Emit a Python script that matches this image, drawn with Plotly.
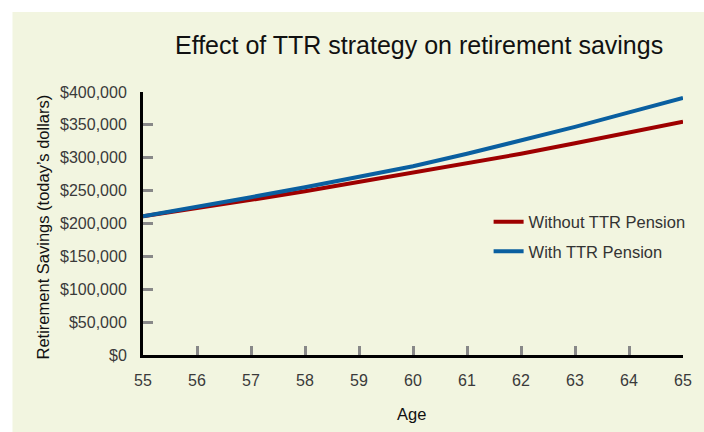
import plotly.graph_objects as go

ages = [55, 56, 57, 58, 59, 60, 61, 62, 63, 64, 65]
without_ttr = [211000, 223000, 236000, 249000, 263000, 277000, 291000, 306000, 322000, 338000, 355000]
with_ttr = [211000, 225000, 240000, 255000, 271000, 287000, 306000, 326000, 347000, 369000, 391000]
y_ticks = [0, 50000, 100000, 150000, 200000, 250000, 300000, 350000, 400000]
y_labels = ["$0", "$50,000", "$100,000", "$150,000", "$200,000", "$250,000", "$300,000", "$350,000", "$400,000"]

FONT = "Liberation Sans, Arial, sans-serif"
BG = "#F2F5E0"

fig = go.Figure()
fig.add_trace(go.Scatter(x=ages, y=without_ttr, mode="lines", name="Without TTR Pension",
                         line=dict(color="#9E0000", width=4), legendgroup="a"))
fig.add_trace(go.Scatter(x=ages, y=with_ttr, mode="lines", name="With TTR Pension",
                         line=dict(color="#0A5FA0", width=4), legendgroup="b"))

fig.update_layout(
    width=704, height=432,
    margin=dict(l=143, r=19, t=92, b=77),
    paper_bgcolor=BG,
    plot_bgcolor="rgba(0,0,0,0)",
    font=dict(family=FONT, size=16, color="#333333"),
    showlegend=True,
    legend=dict(x=0.64, y=0.572, xanchor="left", yanchor="top", bgcolor="rgba(0,0,0,0)",
                font=dict(size=16.5, color="#333333"), traceorder="grouped", tracegroupgap=5),
    shapes=[
        dict(type="rect", xref="paper", yref="paper", x0=-1, x1=2, y0=1.304, y1=2,
             fillcolor="white", line=dict(width=0), layer="below"),
        dict(type="rect", xref="paper", yref="paper", x0=-1, x1=-0.2417, y0=-1, y1=2,
             fillcolor="white", line=dict(width=0), layer="below"),
    ],
    annotations=[
        dict(text="Effect of TTR strategy on retirement savings", xref="paper", yref="paper",
             x=0.511, y=1.179, xanchor="center", yanchor="middle", showarrow=False,
             font=dict(size=25, color="#111111", family=FONT)),
        dict(text="Age", xref="paper", yref="paper", x=0.498, y=-0.224,
             xanchor="center", yanchor="middle", showarrow=False,
             font=dict(size=16.5, color="#111111", family=FONT)),
        dict(text="Retirement Savings (today\u2019s dollars)", xref="paper", yref="paper",
             x=-0.186, y=0.487, xanchor="center", yanchor="middle", textangle=-90,
             showarrow=False, font=dict(size=16.5, color="#111111", family=FONT)),
    ],
)

fig.update_xaxes(range=[55, 65], tickmode="array", tickvals=ages, ticktext=[str(a) for a in ages],
                 showgrid=False, zeroline=False, showline=True, linecolor="black", linewidth=3,
                 ticks="inside", ticklen=9, tickwidth=3, tickcolor="#888888",
                 ticklabelstandoff=9, tickfont=dict(size=16, color="#3a3a3a"))
fig.update_yaxes(range=[0, 400000], tickmode="array", tickvals=y_ticks, ticktext=y_labels,
                 showgrid=False, zeroline=False, showline=True, linecolor="black", linewidth=3,
                 ticks="inside", ticklen=10, tickwidth=3, tickcolor="#888888",
                 ticklabelstandoff=10, tickfont=dict(size=16, color="#3a3a3a"))

fig.write_html("out.html", config={"displayModeBar": False},
               post_script="document.body.style.margin='0';document.body.style.overflow='hidden';"
                           "document.body.style.background='" + BG + "';")
